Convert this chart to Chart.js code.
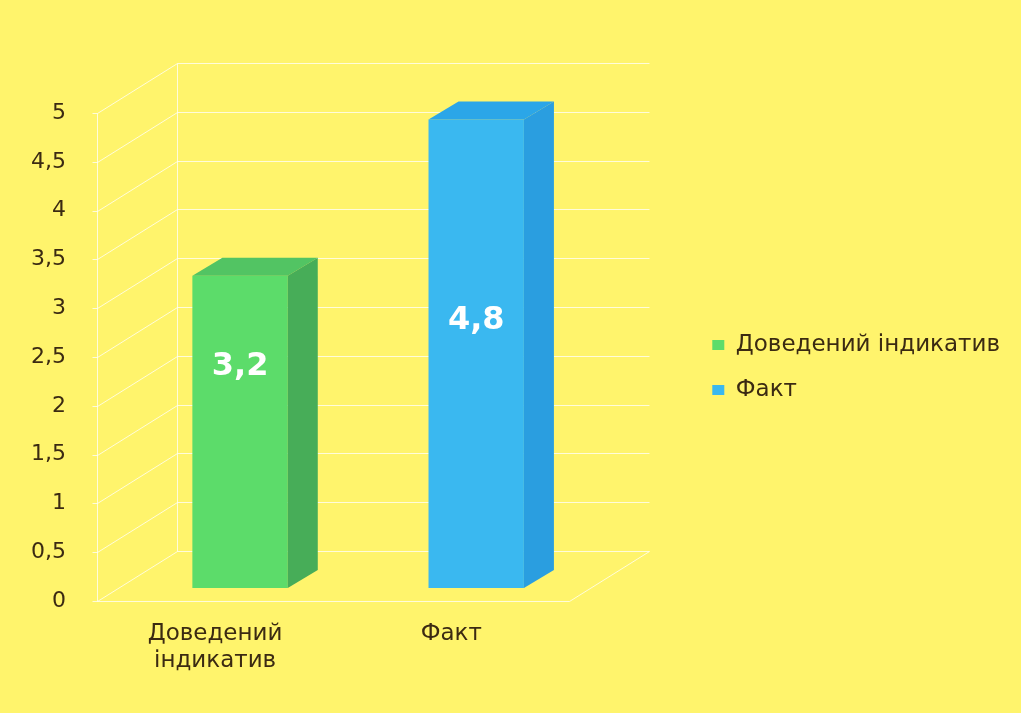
<!DOCTYPE html>
<html>
<head>
<meta charset="utf-8">
<script src="https://cdn.jsdelivr.net/npm/chart.js@4.4.1/dist/chart.umd.min.js"></script>
<style>
  html, body { margin: 0; padding: 0; background: #fff46c; }
  #wrap { width: 1021px; height: 713px; position: relative; }
</style>
</head>
<body>
<div id="wrap"><canvas id="chart"></canvas></div>
<script>
// Chart data
const categories = ['Доведений індикатив', 'Факт'];
const values = [3.2, 4.8];
const yMin = 0;
const yMax = 5;
const yStep = 0.5;

// Colours of the 3D bars: front, side, top
const frontColors = ['#5cdc6a', '#3ab8f0'];
const sideColors = ['#47ad58', '#2a9ee0'];
const topColors = ['#52c463', '#2ba6e8'];
const textColor = '#3b2a12';
const gridColor = 'rgba(255,255,255,0.75)';

// 3D depth settings (pixels)
const wall = { dx: 80, dy: -50 };
const barShift = { dx: 25, dy: -13 };
const barDepth = { dx: 30, dy: -18 };
const labelAt = [0.29, 0.43];

const fmt = v => String(v).replace('.', ',');

// draws the 3D walls, the bar sides and the value labels
const depth3d = {
    id: 'depth3d',
    beforeDatasetsDraw(chart) {
        const { ctx, chartArea: a, scales: { y } } = chart;
        const L = Math.round(a.left) + 0.5;
        const R = Math.round(a.right) + 0.5;
        ctx.save();
        ctx.strokeStyle = gridColor;
        ctx.lineWidth = 1;
        ctx.beginPath();
        const top = Math.round(y.getPixelForValue(yMax)) + 0.5;
        const bot = Math.round(y.getPixelForValue(yMin)) + 0.5;
        ctx.moveTo(L, top); ctx.lineTo(L, bot);
        ctx.moveTo(L + wall.dx, top + wall.dy); ctx.lineTo(L + wall.dx, bot + wall.dy);
        y.ticks.forEach(t => {
            const py = Math.round(y.getPixelForValue(t.value)) + 0.5;
            ctx.moveTo(L - 5, py);
            ctx.lineTo(L, py);
            ctx.lineTo(L + wall.dx, py + wall.dy);
            ctx.lineTo(R + wall.dx, py + wall.dy);
        });
        ctx.moveTo(L, bot); ctx.lineTo(R, bot); ctx.lineTo(R + wall.dx, bot + wall.dy);
        ctx.stroke();
        ctx.restore();

        ctx.save();
        ctx.translate(barShift.dx, barShift.dy);
    },
    afterDatasetsDraw(chart) {
        const { ctx } = chart;
        const meta = chart.getDatasetMeta(0);
        meta.data.forEach((bar, i) => {
            const { x, y, base, width } = bar.getProps(['x', 'y', 'base', 'width'], true);
            const l = x - width / 2, r = x + width / 2;
            ctx.fillStyle = topColors[i];
            ctx.beginPath();
            ctx.moveTo(l, y);
            ctx.lineTo(l + barDepth.dx, y + barDepth.dy);
            ctx.lineTo(r + barDepth.dx, y + barDepth.dy);
            ctx.lineTo(r, y);
            ctx.closePath();
            ctx.fill();
            ctx.fillStyle = sideColors[i];
            ctx.beginPath();
            ctx.moveTo(r, y);
            ctx.lineTo(r + barDepth.dx, y + barDepth.dy);
            ctx.lineTo(r + barDepth.dx, base + barDepth.dy);
            ctx.lineTo(r, base);
            ctx.closePath();
            ctx.fill();
        });
        ctx.restore();

        // value labels
        ctx.save();
        ctx.fillStyle = '#ffffff';
        ctx.font = 'bold 32px "DejaVu Sans"';
        ctx.textAlign = 'center';
        ctx.textBaseline = 'middle';
        meta.data.forEach((bar, i) => {
            const { x, y, base } = bar.getProps(['x', 'y', 'base'], true);
            const ly = y + (base - y) * labelAt[i];
            ctx.fillText(fmt(values[i]), x + barShift.dx, ly + barShift.dy);
        });
        ctx.restore();
    }
};

const ctx = document.getElementById('chart').getContext('2d');
const chart = new Chart(ctx, {
    type: 'bar',
    data: {
        labels: categories,
        datasets: [{
            label: 'Значення',
            data: values,
            backgroundColor: frontColors,
            borderWidth: 0,
            barPercentage: 0.404,
            categoryPercentage: 1,
            clip: false
        }]
    },
    options: {
        responsive: true,
        maintainAspectRatio: false,
        animation: false,
        layout: { padding: { top: 22, bottom: 0, left: 0, right: 11 } },
        scales: {
            x: {
                grid: { display: false, drawTicks: false },
                border: { display: false },
                ticks: {
                    color: textColor,
                    font: { family: 'DejaVu Sans', size: 23 },
                    padding: 19,
                    maxRotation: 0,
                    callback: function (v) { return this.getLabelForValue(v).split(' '); }
                },
                afterFit: s => { s.height = 112; }
            },
            y: {
                min: yMin,
                max: yMax,
                grid: { display: false, drawTicks: false },
                border: { display: false },
                ticks: {
                    stepSize: yStep,
                    color: textColor,
                    font: { family: 'DejaVu Sans', size: 22 },
                    padding: 31,
                    callback: v => fmt(v)
                },
                afterFit: s => { s.width = 97; }
            },
            padTop: {
                position: 'top',
                grid: { display: false, drawTicks: false },
                border: { display: false },
                ticks: { display: false },
                afterFit: s => { s.height = 91; }
            },
            padRight: {
                position: 'right',
                grid: { display: false, drawTicks: false },
                border: { display: false },
                ticks: { display: false },
                afterFit: s => { s.width = 121; }
            }
        },
        plugins: {
            tooltip: { enabled: false },
            legend: {
                position: 'right',
                maxWidth: 420,
                labels: {
                    color: textColor,
                    font: { family: 'DejaVu Sans', size: 23 },
                    boxWidth: 12,
                    boxHeight: 10,
                    padding: 22,
                    generateLabels: () => categories.map((c, i) => ({
                        text: c,
                        fillStyle: frontColors[i],
                        strokeStyle: frontColors[i],
                        fontColor: textColor,
                        lineWidth: 0,
                        hidden: false,
                        index: i
                    }))
                }
            }
        }
    },
    plugins: [depth3d]
});
</script>
</body>
</html>
